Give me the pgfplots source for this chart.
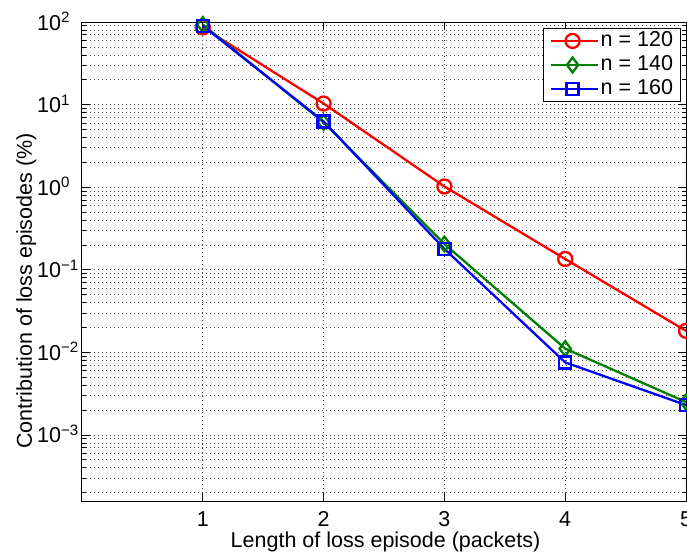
\documentclass[border=0pt]{standalone}
\usepackage{fontspec}
\setmainfont{Liberation Sans}
\usepackage{pgfplots}
\pgfplotsset{compat=1.18}

\definecolor{mred}{rgb}{1,0,0}
\definecolor{mgreen}{rgb}{0,0.5,0}
\definecolor{mblue}{rgb}{0,0,1}

% Contribution of loss episodes (%) by episode length (packets)
\pgfplotstableread{
len  n120    n140    n160
1    86      93      90
2    10.3    6.1     6.25
3    1.02    0.205   0.179
4    0.135   0.0111  0.00755
5    0.0182  0.0025  0.0023
}\losstable

\newcommand{\lbl}{\fontsize{21.5bp}{24bp}\selectfont}

\begin{document}
\begin{tikzpicture}
\begin{axis}[
  scale only axis,
  width=604bp, height=479bp,
  xmin=0, xmax=5,
  ymode=log, ymin=1.585e-4, ymax=100,
  xtick={1,2,3,4,5},
  ytick={1e-3,1e-2,1e-1,1,10,100},
  yticklabels={10\textsuperscript{−3},10\textsuperscript{−2},10\textsuperscript{−1},10\textsuperscript{0},10\textsuperscript{1},10\textsuperscript{2}},
  minor ytick={2e-4,3e-4,4e-4,5e-4,6e-4,7e-4,8e-4,9e-4,
               2e-3,3e-3,4e-3,5e-3,6e-3,7e-3,8e-3,9e-3,
               2e-2,3e-2,4e-2,5e-2,6e-2,7e-2,8e-2,9e-2,
               0.2,0.3,0.4,0.5,0.6,0.7,0.8,0.9,
               2,3,4,5,6,7,8,9,
               20,30,40,50,60,70,80,90},
  /pgf/number format/assume math mode=true,
  tick align=inside,
  major tick length=8bp,
  minor tick length=4bp,
  tick style={black, line width=0.7bp},
  axis line style={black, line width=1bp},
  grid=both,
  major grid style={black!70, line width=0.65bp, dash pattern=on 0.8bp off 3.2bp},
  minor grid style={black!70, line width=0.65bp, dash pattern=on 0.8bp off 3.2bp},
  tick label style={font=\lbl, inner sep=0pt},
  xticklabel style={anchor=base, yshift=-25bp},
  yticklabel style={anchor=base west, xshift=-45bp, yshift=-8bp},
  xlabel={Length of loss episode (packets)},
  ylabel={Contribution of loss episodes (\%)},
  every axis x label/.style={at={(axis description cs:0.5025,0)}, anchor=base,
    yshift=-46bp, font=\lbl, inner sep=0pt},
  every axis y label/.style={at={(axis description cs:-0.083,0.4384)}, rotate=90,
    anchor=base, font=\lbl, inner sep=0pt},
  legend style={at={(axis description cs:0.9917,0.9875)}, anchor=north east,
    draw=black, line width=0.9bp, fill=white, font=\lbl,
    inner xsep=6bp, inner ysep=1.5bp, row sep=2bp,
    nodes={inner sep=1.5bp, text height=15bp, text depth=4bp}},
  legend cell align=left,
  legend image code/.code={
    \path (0bp,0bp) -- (47.5bp,0bp);
    \draw[mark repeat=2, mark phase=2] plot coordinates {(4.5bp,0bp) (22bp,0bp) (39.5bp,0bp)};
  },
  every axis plot/.append style={line width=2.3bp},
]
\addplot[mred, mark=o, mark size=7bp, mark options={solid}] table[x=len, y=n120] {\losstable};
\addlegendentry{n = 120}
\addplot[mgreen, mark=diamond, mark size=7.5bp, mark options={solid}] table[x=len, y=n140] {\losstable};
\addlegendentry{n = 140}
\addplot[mblue, mark=square, mark size=6bp, mark options={solid}] table[x=len, y=n160] {\losstable};
\addlegendentry{n = 160}
\end{axis}
\pgfresetboundingbox
\path[use as bounding box] (current axis.south west) ++(-82bp,-53bp) rectangle ++(687bp,554bp);
\end{tikzpicture}
\end{document}
